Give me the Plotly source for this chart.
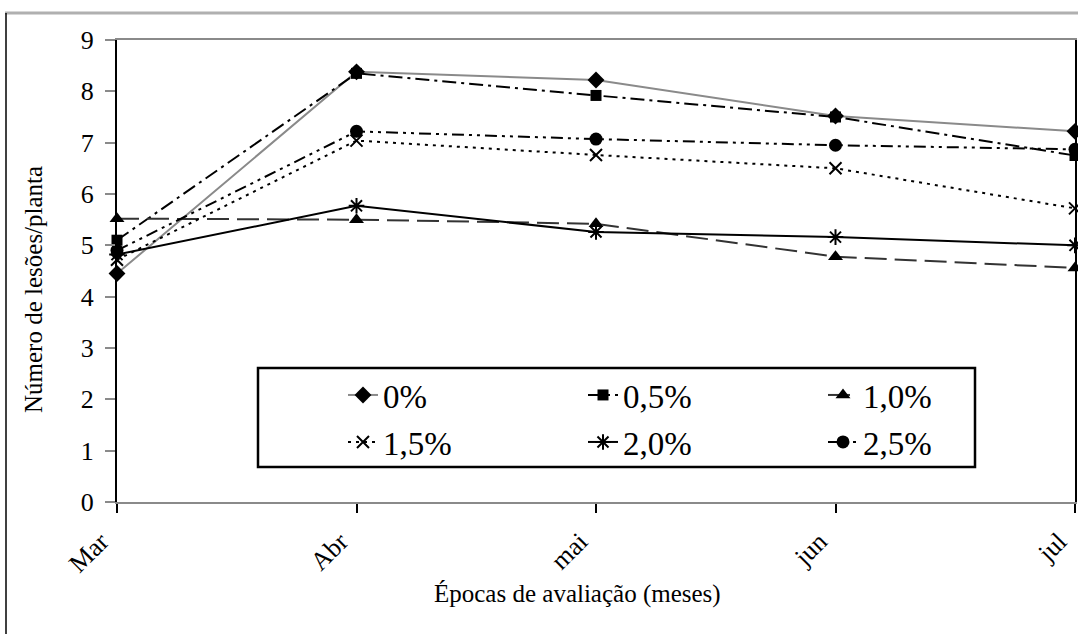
import plotly.graph_objects as go

months = ["Mar", "Abr", "mai", "jun", "jul"]
s0 = [4.45, 8.38, 8.22, 7.52, 7.22]
s05 = [5.1, 8.35, 7.92, 7.5, 6.75]
s10 = [5.52, 5.5, 5.42, 4.78, 4.56]
s15 = [4.72, 7.04, 6.76, 6.5, 5.72]
s20 = [4.82, 5.77, 5.26, 5.16, 5.0]
s25 = [4.9, 7.22, 7.07, 6.95, 6.87]

names = ["0%", "0,5%", "1,0%", "1,5%", "2,0%", "2,5%"]
series = [s0, s05, s10, s15, s20, s25]
legend_ids = ["legend", "legend", "legend", "legend2", "legend2", "legend2"]
styles = [
    dict(line=dict(color="#8a8a8a", width=2, dash="solid"), marker=dict(symbol="diamond", size=13, color="black")),
    dict(line=dict(color="black", width=2, dash="14px,5px,3px,5px"), marker=dict(symbol="square", size=11, color="black")),
    dict(line=dict(color="#333333", width=2, dash="22px,8px"), marker=dict(symbol="triangle-up", size=13, color="black")),
    dict(line=dict(color="black", width=2, dash="3px,5px"), marker=dict(symbol="x-thin-open", size=12, color="black", line=dict(width=2, color="black"))),
    dict(line=dict(color="black", width=2, dash="solid"), marker=dict(symbol="asterisk-open", size=13, color="black", line=dict(width=2, color="black"))),
    dict(line=dict(color="black", width=2, dash="12px,5px,3px,5px,3px,5px"), marker=dict(symbol="circle", size=13, color="black")),
]

fig = go.Figure()
for n, s, lg, st in zip(names, series, legend_ids, styles):
    fig.add_trace(go.Scatter(x=months, y=s, name=n, mode="lines+markers", legend=lg,
                             line=st["line"], marker=st["marker"], cliponaxis=False))

font_family = "Liberation Serif, Times New Roman, serif"
leg_common = dict(orientation="h", xanchor="left", yanchor="middle",
                  bgcolor="rgba(0,0,0,0)", borderwidth=0,
                  font=dict(family=font_family, size=33, color="black"),
                  entrywidth=195, entrywidthmode="pixels")
PX0, PW, PY0, PH = 117, 958, 502, 462

def px(x):
    return (x - PX0) / PW

def py(y):
    return (PY0 - y) / PH

fig.update_layout(
    width=1078, height=634,
    margin=dict(l=117, r=3, t=40, b=132, autoexpand=False),
    paper_bgcolor="white", plot_bgcolor="white",
    font=dict(family=font_family, size=24, color="black"),
    showlegend=True,
    legend=dict(x=px(343), y=py(395), **leg_common),
    legend2=dict(x=px(343), y=py(442), **leg_common),
    xaxis=dict(type="category", range=[0, 4], showgrid=False, zeroline=False,
               showline=True, linecolor="#8a8a8a", linewidth=2, mirror=True,
               ticks="outside", ticklen=9, tickcolor="black", tickwidth=1.5,
               tickangle=-45, ticklabeloverflow="allow",
               ticklabelshift=-16, ticklabelstandoff=3,
               tickfont=dict(family=font_family, size=26)),
    yaxis=dict(range=[0, 9], dtick=1, showgrid=False, zeroline=False,
               showline=True, linecolor="black", linewidth=2, mirror=True,
               ticks="outside", ticklen=10, tickcolor="#8a8a8a", tickwidth=1.5,
               ticklabelstandoff=6,
               tickfont=dict(family=font_family, size=26)),
    annotations=[
        dict(text="Épocas de avaliação (meses)", xref="paper", yref="paper",
             x=px(577), y=py(594), xanchor="center", yanchor="middle", showarrow=False,
             font=dict(family=font_family, size=25)),
        dict(text="Número de lesões/planta", xref="paper", yref="paper", textangle=-90,
             x=px(33), y=py(290), xanchor="center", yanchor="middle", showarrow=False,
             font=dict(family=font_family, size=25)),
    ],
    shapes=[
        dict(type="line", xref="paper", yref="paper", x0=px(5), x1=px(1085), y0=py(13), y1=py(13),
             line=dict(color="#b0b0b0", width=3)),
        dict(type="line", xref="paper", yref="paper", x0=px(6), x1=px(6), y0=py(13), y1=py(640),
             line=dict(color="black", width=1.5)),
        dict(type="rect", xref="paper", yref="paper", layer="above",
             x0=px(258), x1=px(975), y0=py(467), y1=py(368),
             fillcolor="white", line=dict(color="black", width=2.5)),
    ],
)

fig.write_html("out.html", config={"displayModeBar": False},
               post_script="document.body.style.margin='0';document.body.style.overflow='hidden';")
